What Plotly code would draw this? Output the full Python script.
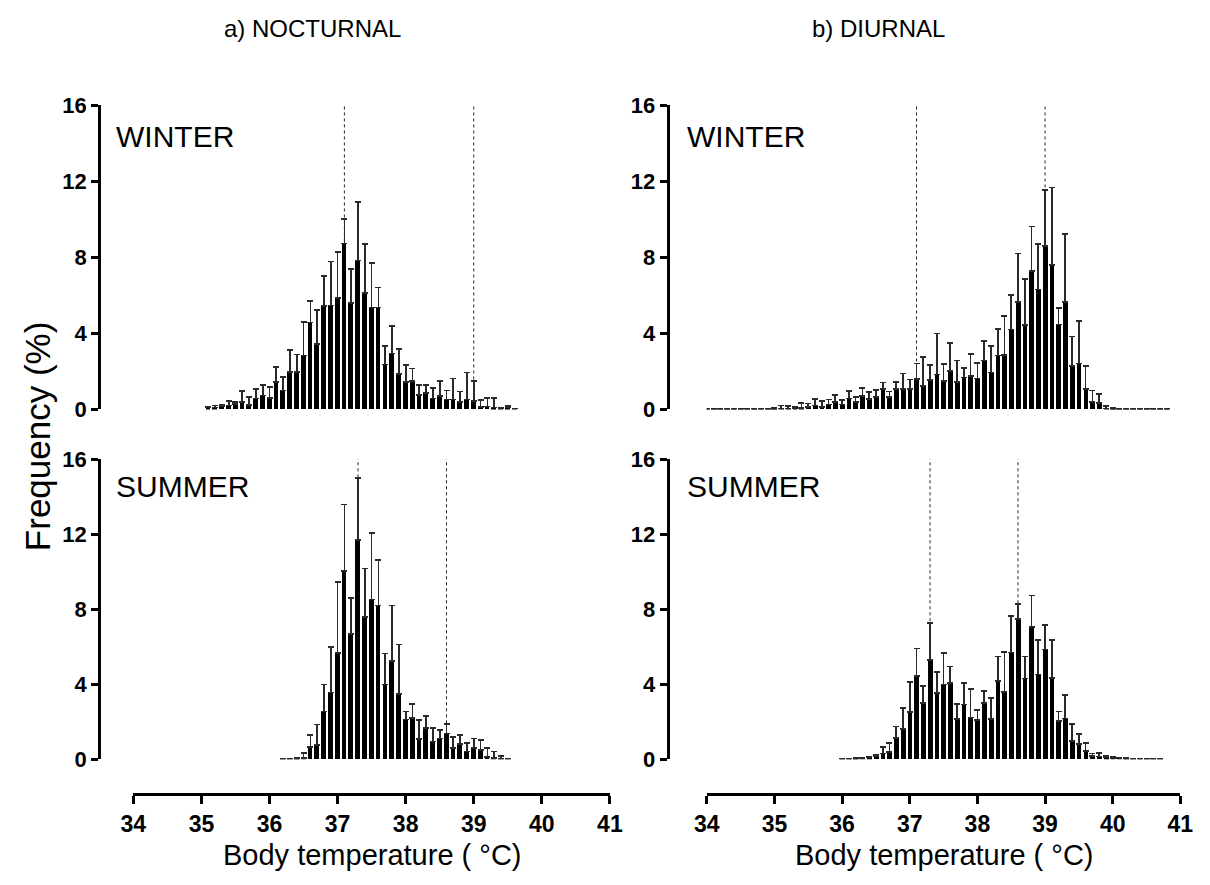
import plotly.graph_objects as go

# ---------------- data ----------------
# a) NOCTURNAL - WINTER
nw_temp = [35.1, 35.2, 35.3, 35.4, 35.5, 35.6, 35.7, 35.8, 35.9, 36.0,
           36.1, 36.2, 36.3, 36.4, 36.5, 36.6, 36.7, 36.8, 36.9, 37.0,
           37.1, 37.2, 37.3, 37.4, 37.5, 37.6, 37.7, 37.8, 37.9, 38.0,
           38.1, 38.2, 38.3, 38.4, 38.5, 38.6, 38.7, 38.8, 38.9, 39.0,
           39.1, 39.2, 39.3, 39.4, 39.5, 39.6]
nw_freq = [0.1, 0.1, 0.15, 0.2, 0.3, 0.4, 0.22, 0.57, 0.74, 0.6,
           1.46, 1.0, 1.98, 1.98, 2.84, 4.57, 3.45, 5.43, 5.46, 5.86,
           8.73, 5.6, 7.84, 6.12, 5.36, 5.36, 2.37, 2.94, 1.86, 1.46,
           1.51, 0.77, 0.86, 0.57, 0.7, 0.52, 0.53, 0.4, 0.53, 0.43,
           0.14, 0.15, 0.1, 0.05, 0.1, 0.05]
nw_upper = [0.15, 0.2, 0.25, 0.45, 0.4, 0.96, 0.65, 1.08, 1.29, 1.17,
            2.23, 1.72, 3.11, 2.89, 4.6, 5.72, 5.24, 7.01, 7.78, 8.3,
            10.02, 7.39, 10.9, 8.69, 7.7, 6.41, 3.35, 4.4, 3.18, 2.32,
            2.16, 1.29, 1.29, 1.12, 1.51, 1.0, 1.63, 0.95, 1.94, 1.48,
            0.48, 0.62, 0.62, 0.1, 0.17, 0.05]
nw_lines = [37.1, 39.0]

# a) NOCTURNAL - SUMMER
ns_temp = [36.2, 36.3, 36.4, 36.5, 36.6, 36.7, 36.8, 36.9, 37.0, 37.1,
           37.2, 37.3, 37.4, 37.5, 37.6, 37.7, 37.8, 37.9, 38.0, 38.1,
           38.2, 38.3, 38.4, 38.5, 38.6, 38.7, 38.8, 38.9, 39.0, 39.1,
           39.2, 39.3, 39.4, 39.5]
ns_freq = [0.02, 0.02, 0.03, 0.07, 0.64, 0.76, 2.55, 3.56, 5.68, 10.05,
           6.67, 11.7, 7.59, 8.51, 8.19, 3.99, 5.24, 3.47, 2.12, 2.19,
           1.08, 1.68, 0.94, 1.11, 1.37, 0.59, 0.82, 0.42, 0.61, 0.5,
           0.12, 0.07, 0.03, 0.02]
ns_upper = [0.02, 0.02, 0.05, 0.35, 1.28, 1.86, 3.98, 5.97, 9.46, 13.58,
            8.59, 14.97, 10.16, 12.07, 10.63, 5.64, 8.19, 6.11, 2.55, 2.95,
            2.08, 2.29, 1.68, 1.55, 1.89, 1.2, 1.28, 0.87, 1.11, 1.04,
            0.59, 0.42, 0.17, 0.02]
ns_lines = [37.3, 38.6]

# b) DIURNAL - WINTER
dw_temp = [34.0, 34.1, 34.2, 34.3, 34.4, 34.5, 34.6, 34.7, 34.8, 34.9,
           35.0, 35.1, 35.2, 35.3, 35.4, 35.5, 35.6, 35.7, 35.8, 35.9,
           36.0, 36.1, 36.2, 36.3, 36.4, 36.5, 36.6, 36.7, 36.8, 36.9,
           37.0, 37.1, 37.2, 37.3, 37.4, 37.5, 37.6, 37.7, 37.8, 37.9,
           38.0, 38.1, 38.2, 38.3, 38.4, 38.5, 38.6, 38.7, 38.8, 38.9,
           39.0, 39.1, 39.2, 39.3, 39.4, 39.5, 39.6, 39.7, 39.8, 39.9,
           40.0, 40.1, 40.2, 40.3, 40.4, 40.5, 40.6, 40.7, 40.8]
dw_freq = [0.01, 0.01, 0.01, 0.01, 0.01, 0.01, 0.01, 0.01, 0.02, 0.03,
           0.03, 0.05, 0.05, 0.05, 0.09, 0.14, 0.21, 0.14, 0.26, 0.38,
           0.26, 0.57, 0.38, 0.72, 0.55, 0.65, 1.07, 0.64, 1.07, 1.07,
           1.07, 1.6, 1.25, 1.55, 1.84, 1.49, 2.03, 1.43, 1.68, 1.75,
           1.62, 2.58, 1.94, 2.84, 2.87, 4.21, 5.67, 4.43, 7.27, 6.31,
           8.59, 7.59, 4.47, 5.67, 2.29, 2.41, 1.08, 0.4, 0.34, 0.05,
           0.03, 0.01, 0.01, 0.01, 0.01, 0.02, 0.02, 0.01, 0.01]
dw_upper = [0.01, 0.01, 0.01, 0.01, 0.02, 0.02, 0.02, 0.02, 0.04, 0.05,
            0.09, 0.21, 0.17, 0.12, 0.34, 0.31, 0.55, 0.43, 0.52, 0.77,
            0.48, 0.98, 0.64, 1.12, 0.91, 1.03, 1.41, 0.95, 1.46, 1.89,
            1.58, 2.41, 2.75, 2.32, 4.0, 2.39, 3.49, 2.58, 2.18, 2.92,
            2.46, 3.61, 3.32, 4.24, 4.9, 6.01, 8.2, 6.87, 9.62, 8.71,
            11.56, 11.68, 5.33, 9.23, 3.83, 4.64, 2.29, 1.0, 0.82, 0.17,
            0.08, 0.02, 0.02, 0.02, 0.02, 0.05, 0.05, 0.02, 0.03]
dw_lines = [37.1, 39.0]

# b) DIURNAL - SUMMER
ds_temp = [36.0, 36.1, 36.2, 36.3, 36.4, 36.5, 36.6, 36.7, 36.8, 36.9,
           37.0, 37.1, 37.2, 37.3, 37.4, 37.5, 37.6, 37.7, 37.8, 37.9,
           38.0, 38.1, 38.2, 38.3, 38.4, 38.5, 38.6, 38.7, 38.8, 38.9,
           39.0, 39.1, 39.2, 39.3, 39.4, 39.5, 39.6, 39.7, 39.8, 39.9,
           40.0, 40.1, 40.2, 40.3, 40.4, 40.5, 40.6, 40.7]
ds_freq = [0.01, 0.02, 0.03, 0.05, 0.1, 0.17, 0.31, 0.38, 1.13, 1.61,
           2.52, 4.43, 3.0, 5.3, 3.52, 3.99, 4.08, 2.14, 2.92, 2.22,
           2.08, 2.99, 2.14, 4.17, 3.59, 5.69, 7.47, 4.31, 7.03, 4.51,
           5.85, 4.34, 2.03, 2.17, 0.99, 0.82, 0.43, 0.17, 0.14, 0.09,
           0.05, 0.04, 0.03, 0.02, 0.02, 0.02, 0.01, 0.01]
ds_upper = [0.02, 0.03, 0.05, 0.08, 0.12, 0.23, 0.64, 0.87, 1.74, 2.74,
            4.11, 5.9, 3.91, 7.26, 4.64, 5.68, 4.95, 2.95, 4.08, 3.73,
            2.64, 3.65, 3.26, 5.47, 5.73, 7.64, 8.28, 5.47, 8.72, 6.34,
            7.15, 6.34, 2.55, 3.44, 1.88, 1.34, 0.87, 0.3, 0.35, 0.17,
            0.12, 0.08, 0.05, 0.03, 0.03, 0.03, 0.02, 0.02]
ds_lines = [37.3, 38.6]

x_ticks = [34, 35, 36, 37, 38, 39, 40, 41]
y_ticks = [0, 4, 8, 12, 16]

# ---------------- layout geometry (pixels) ----------------
W, H = 1210, 885
def px_x(p):
    return p / W
def px_y(p):
    return 1 - p / H

col_dom = {"L": [px_x(123), px_x(610)], "R": [px_x(709), px_x(1193)]}
row_dom = {"T": [px_y(409), px_y(96)], "B": [px_y(769), px_y(460)]}
yaxis_pos = {"L": px_x(88), "R": px_x(669)}
xaxis_line_y = px_y(805)

panels = [
    ("", "L", "T", nw_temp, nw_freq, nw_upper, nw_lines),
    ("2", "R", "T", dw_temp, dw_freq, dw_upper, dw_lines),
    ("3", "L", "B", ns_temp, ns_freq, ns_upper, ns_lines),
    ("4", "R", "B", ds_temp, ds_freq, ds_upper, ds_lines),
]

FONT = "Liberation Sans, Arial, sans-serif"
fig = go.Figure()
shapes = []
layout = dict(
    width=W, height=H,
    margin=dict(l=0, r=0, t=0, b=0),
    paper_bgcolor="white", plot_bgcolor="white",
    showlegend=False, bargap=0,
    font=dict(family=FONT, color="black"),
)

for suf, col, row, temps, freq, upper, lines in panels:
    err = [max(u - f, 0) for u, f in zip(upper, freq)]
    fig.add_trace(go.Bar(
        x=temps, y=freq, width=0.07,
        marker=dict(color="black", line=dict(width=0)),
        error_y=dict(type="data", symmetric=False, array=err,
                     arrayminus=[0] * len(err), color="#2a2a2a",
                     thickness=1.7, width=3),
        xaxis="x" + suf, yaxis="y" + suf,
    ))
    for t in lines:
        shapes.append(dict(type="line", xref="x" + suf, yref="y" + suf,
                           x0=t, x1=t, y0=0, y1=16.1, layer="below",
                           line=dict(color="#222", width=1, dash="dot")))
    xa = dict(domain=col_dom[col], range=[34, 41], showgrid=False,
              zeroline=False, fixedrange=True)
    if row == "T":
        xa.update(visible=False, anchor="y" + suf)
    else:
        xa.update(anchor="free", position=xaxis_line_y, showline=True,
                  linewidth=3, linecolor="black", ticks="outside",
                  ticklen=8, tickwidth=3, tickcolor="black",
                  tickvals=x_ticks,
                  tickfont=dict(family=FONT, size=23, color="black",
                                weight="bold"))
    ya = dict(domain=row_dom[row], range=[0, 16], anchor="free",
              position=yaxis_pos[col], showline=True, linewidth=3,
              linecolor="black", ticks="outside", ticklen=7, tickwidth=3,
              tickcolor="black", tickvals=y_ticks, showgrid=False,
              zeroline=False, fixedrange=True,
              tickfont=dict(family=FONT, size=22, color="black",
                            weight="bold"))
    layout["xaxis" + suf] = xa
    layout["yaxis" + suf] = ya

def label(text, x, y, size, anchor="center", angle=0):
    return dict(text=text, x=px_x(x), y=px_y(y), xref="paper", yref="paper",
                showarrow=False, textangle=angle,
                font=dict(size=size, family=FONT, color="black"),
                xanchor=anchor, yanchor="middle")

annotations = [
    label("a) NOCTURNAL", 306, 17, 24),
    label("b) DIURNAL", 884, 17, 24),
    label("WINTER", 103, 128, 30, "left"),
    label("WINTER", 687, 128, 30, "left"),
    label("SUMMER", 103, 488, 30, "left"),
    label("SUMMER", 687, 488, 30, "left"),
    label("Frequency (%)", 25, 436, 35, angle=-90),
    label("Body temperature ( °C)", 367, 868, 29),
    label("Body temperature ( °C)", 951, 868, 29),
]
layout["annotations"] = annotations
layout["shapes"] = shapes
fig.update_layout(**layout)

fig.write_html("out.html", config={"displayModeBar": False},
               post_script="document.body.style.margin='0px';")
